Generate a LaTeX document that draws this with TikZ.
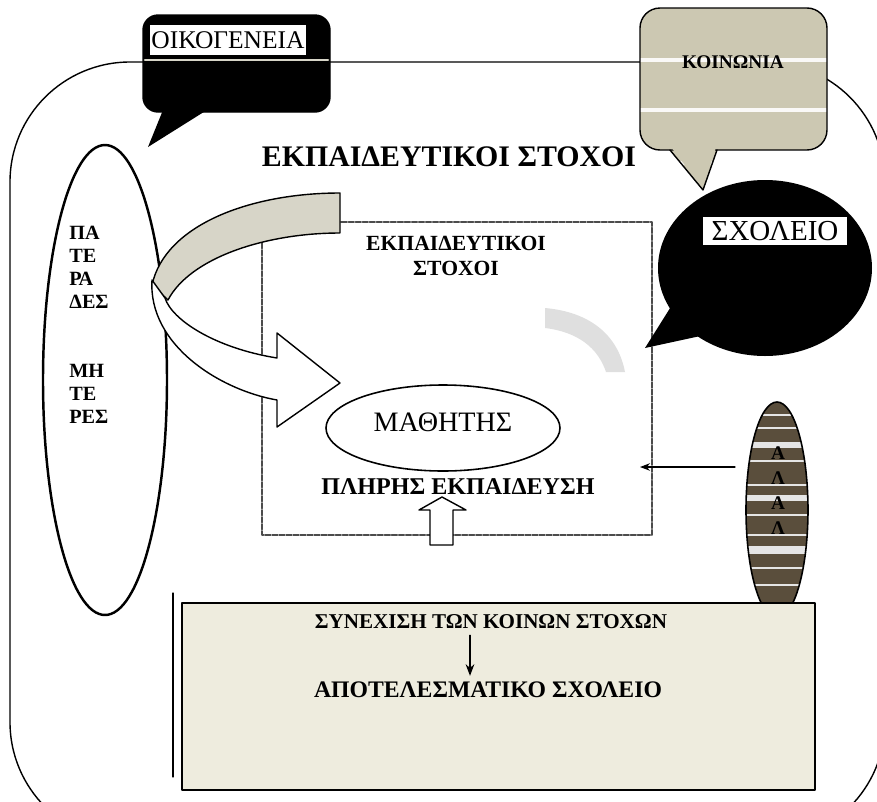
\documentclass[tikz,border=0pt]{standalone}
\usepackage{fontspec}
\setmainfont{Liberation Serif}
\usetikzlibrary{arrows.meta}
\definecolor{koin}{RGB}{204,200,178}
\definecolor{alla}{RGB}{90,78,60}
\definecolor{kato}{RGB}{238,236,222}
\definecolor{lorida}{RGB}{215,213,200}
\begin{document}
\begin{tikzpicture}[x=.02cm, y=-.02cm, line join=round, line cap=round, >=Stealth,
  lbl/.style={inner sep=0pt, font=\bfseries\fontsize{11.5}{13}\selectfont, align=left},
  dotbox/.style={gray!60!black, line width=1.2pt, dash pattern=on 3pt off 1pt},
  stripe/.style={white!90!koin, line width=2.5pt}]
\useasboundingbox (0,0) rectangle (877,802);
%\draw[gray!30] (0,0) grid[step=1cm] (877,802);
\draw[line width=.8pt, rounded corners=2.4cm] (10,62) rectangle (885,842);
\node[font=\bfseries\fontsize{17}{19}\selectfont] (titlos) at (449,157) {ΕΚΠΑΙΔΕΥΤΙΚΟΙ ΣΤΟΧΟΙ};
% goneis
\draw[line width=1.4pt] (105,380) ellipse (62 and 235);
\node[lbl, anchor=north west] (pateras) at (69,226) {ΠΑ\\ΤΕ\\ΡΑ\\ΔΕΣ};
\node[lbl, anchor=north west] (miteres) at (69,364) {ΜΗ\\ΤΕ\\ΡΕΣ};
% plaisio
\draw[dotbox] (262,222) rectangle (652,535);
\node[font=\bfseries\fontsize{12.3}{14}\selectfont, align=center] (stoxoi) at (456,256) {ΕΚΠΑΙΔΕΥΤΙΚΟΙ\\ΣΤΟΧΟΙ};
\filldraw[fill=lorida, line width=.8pt] (340,193) .. controls (250,193) and (165,225) .. (152,285) -- (168,300) .. controls (190,258) and (265,233) .. (340,233) -- cycle;
\filldraw[fill=white, line width=.8pt] (152,280) .. controls (148,345) and (220,390) .. (277,400) -- (277,427) -- (340,383) -- (277,333) -- (277,358) .. controls (215,348) and (172,320) .. (165,298) -- cycle;
\fill[gray!25] (545,308) .. controls (590,312) and (618,335) .. (625,372) -- (606,372) .. controls (598,348) and (578,332) .. (545,328) -- cycle;
\draw[line width=.9pt] (443,428) ellipse (117 and 43);
\node[font=\fontsize{16}{18}\selectfont] (mathitis) at (443,422) {ΜΑΘΗΤΗΣ};
\node[font=\bfseries\fontsize{13.7}{15}\selectfont] (pliris) at (458,487) {ΠΛΗΡΗΣ ΕΚΠΑΙΔΕΥΣΗ};
\filldraw[fill=white, line width=.8pt] (430,545) -- (430,510) -- (419,510) -- (442,497) -- (466,510) -- (453,510) -- (453,545) -- cycle;
% alla
\coordinate (allaW) at (735,467);
\coordinate (plaisioE) at (640,467);
\draw[->, line width=.6pt] (allaW) -- (plaisioE);
\begin{scope}
\clip (777,510) ellipse (31 and 108);
\fill[alla] (740,395) rectangle (815,625);
\foreach \yy/\ww in {415/1.5, 428/1, 445/3, 461/1.5, 485/1, 498/3, 515/1.5, 535/1, 550/4, 568/1.5, 585/1}
  \draw[white!80!gray, line width=\ww pt] (740,\yy) -- (815,\yy);
\end{scope}
\draw[line width=.9pt] (777,510) ellipse (31 and 108);
\foreach \yy [count=\i] in {453,478,503,528}
  \node[font=\bfseries\fontsize{11}{12}\selectfont, inner sep=0pt] (alla\i) at (778,\yy) {\ifodd\i Α\else Λ\fi};
% kato plaisio
\draw[line width=.6pt] (173,593) -- (173,777);
\filldraw[fill=kato, line width=1pt] (182,603) rectangle (815,790);
\node[font=\bfseries\fontsize{12}{14}\selectfont] (synexisi) at (491,622) {ΣΥΝΕΧΙΣΗ ΤΩΝ ΚΟΙΝΩΝ ΣΤΟΧΩΝ};
\node[font=\bfseries\fontsize{13.5}{15}\selectfont] (apotel) at (488,690) {ΑΠΟΤΕΛΕΣΜΑΤΙΚΟ ΣΧΟΛΕΙΟ};
\draw[->, line width=.8pt] (synexisi.south -| 470,0) -- (apotel.north -| 470,0);
% oikogeneia
\filldraw[line width=.8pt, rounded corners=.3cm] (143,15) rectangle (330,112);
\fill (163,110) -- (148,147) -- (207,110) -- cycle;
\draw[lorida, line width=1.5pt] (145,60) -- (328,60);
\node[fill=white, inner sep=1pt, minimum width=3.1cm, minimum height=.6cm, font=\fontsize{14.5}{16}\selectfont] (oikogeneia) at (228,40) {ΟΙΚΟΓΕΝΕΙΑ};
% koinonia
\begin{scope}
\clip[rounded corners=.4cm] (640,8) rectangle (827,150) [sharp corners] (670,150) -- (703,190) -- (717,150) -- cycle;
\fill[koin] (630,0) rectangle (840,200);
\foreach \yy in {60,110,163}
  \draw[stripe] (630,\yy) -- (840,\yy);
\end{scope}
\draw[line width=.8pt, rounded corners=.4cm] (640,8) rectangle (827,150);
\fill[koin] (671,147) -- (703,189) -- (716,147) -- cycle;
\draw[line width=.8pt] (670,150) -- (703,190) -- (717,150);
\node[font=\bfseries\fontsize{11}{13}\selectfont] (koinonia) at (733,62) {ΚΟΙΝΩΝΙΑ};
% sxoleio
\fill (765,268) ellipse (107 and 88);
\fill (672,305) -- (645,348) -- (705,335) -- cycle;
\node[fill=white, inner sep=2pt, minimum width=2.88cm, minimum height=.56cm, font=\fontsize{16.5}{18}\selectfont] (sxoleio) at (775,231) {ΣΧΟΛΕΙΟ};
\end{tikzpicture}
\end{document}
